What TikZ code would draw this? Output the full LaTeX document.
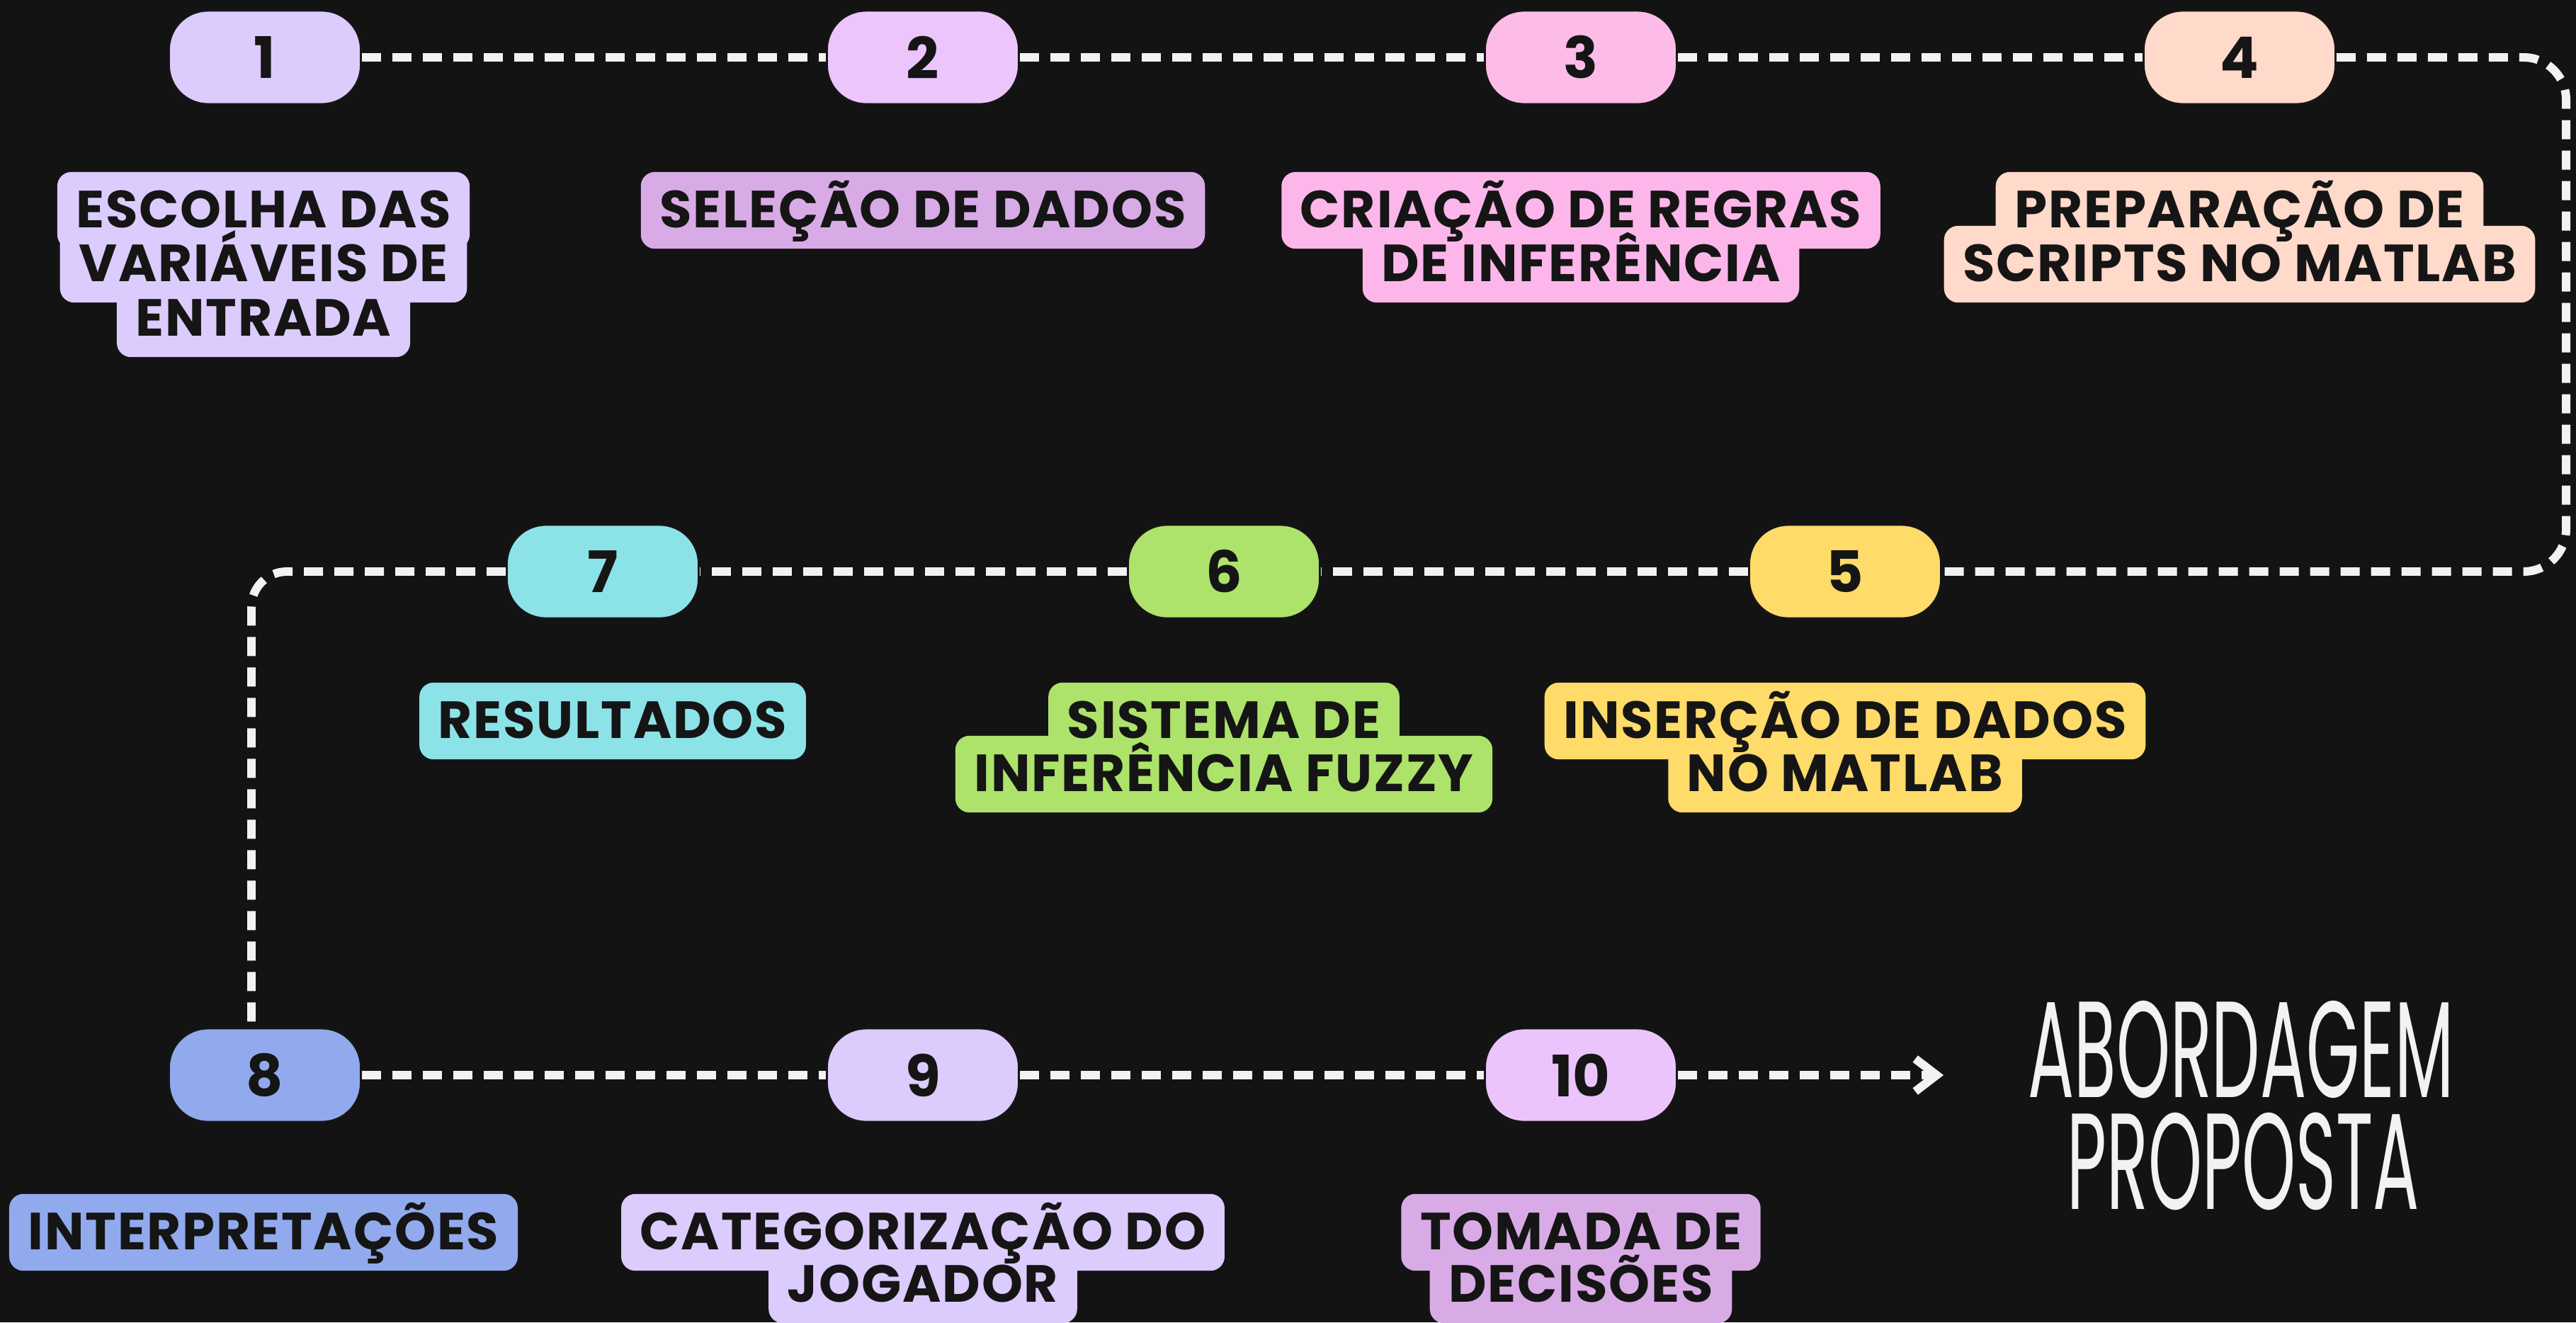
\documentclass[tikz,border=0pt]{standalone}
\usepackage{fontspec}
\setmainfont{Poppins}
\usetikzlibrary{arrows.meta,backgrounds}

\definecolor{fundo}{HTML}{131313}
\definecolor{trilhacor}{HTML}{F2F2F2}
\definecolor{tinta}{HTML}{151515}
\definecolor{cor1}{HTML}{DCCBFD}
\definecolor{cor2}{HTML}{EBC5FC}
\definecolor{cor2b}{HTML}{D8ABE6}
\definecolor{cor3}{HTML}{FDBCE8}
\definecolor{cor3b}{HTML}{FDB6EA}
\definecolor{cor4}{HTML}{FFD9CA}
\definecolor{cor5}{HTML}{FFDB6A}
\definecolor{cor6}{HTML}{ADE36A}
\definecolor{cor7}{HTML}{8BE3E8}
\definecolor{cor8}{HTML}{91AAEE}
\definecolor{cor9}{HTML}{DCCBFD}
\definecolor{cor10}{HTML}{ECC4FD}
\definecolor{cor10b}{HTML}{D8ABE6}

\begin{document}
\begin{tikzpicture}[
        passo/.style = {
                rounded corners=5.5mm,
                draw=tinta,
                line width=0.8pt,
                minimum width=27.1mm,
                minimum height=13.2mm,
                text=tinta,
                font=\fontsize{23}{23}\selectfont\bfseries,
            },
        rotulo/.style = {
                inner xsep=2.6mm,
                inner ysep=2.9mm,
                text height=4.9mm,
                text depth=0mm,
                text=tinta,
                font=\fontsize{21}{21}\selectfont\bfseries\addfontfeatures{LetterSpace=2.5},
            },
        trilha/.style = {
                draw=trilhacor,
                line width=3.4pt,
                dash pattern=on 2.7mm off 1.6mm,
            },
        titulo/.style = {
                inner sep=0pt,
                text height=11.8mm,
                text depth=0mm,
                text=trilhacor,
                font=\fontsize{55}{55}\selectfont,
            },
    ]
    \useasboundingbox (0,0) rectangle (36.37,-18.67);
    \begin{scope}[on background layer]
        \fill[fundo] (0,0) rectangle (36.37,-18.67);
    \end{scope}

    % etapas numeradas
    \foreach \n/\x/\y in {
            1/3.74/-0.81, 2/13.03/-0.81, 3/22.32/-0.81, 4/31.62/-0.81,
            5/26.05/-8.07, 6/17.28/-8.07, 7/8.51/-8.07,
            8/3.74/-15.18, 9/13.03/-15.18, 10/22.32/-15.18
        }
    \node[passo, fill=cor\n] (p\n) at (\x,\y) {\n};

    % trilha tracejada
    \coordinate (cantoNE) at (36.23,-0.81);
    \coordinate (cantoSE) at (36.23,-8.07);
    \coordinate (cantoNO) at (3.55,-8.07);
    \coordinate (fim) at (27.44,-15.18);
    \foreach \a/\b in {1/2, 2/3, 3/4, 5/6, 6/7, 8/9, 9/10}
    \draw[trilha] (p\a) -- (p\b);
    \draw[trilha, rounded corners=6mm] (p4) -- (cantoNE) -- (cantoSE) -- (p5);
    \draw[trilha, rounded corners=5mm] (p7) -- (cantoNO) -- (cantoNO |- p8.north);
    \draw[trilha, -{Straight Barb[length=3mm, width=4.6mm]}] (p10) -- (fim);

    % rotulos, uma linha por no
    \foreach \nome/\cor/\x/\y/\texto in {
            r1a/cor1/3.72/-2.97/ESCOLHA DAS,
            r1b/cor1/3.72/-3.73/VARIÁVEIS DE,
            r1c/cor1/3.72/-4.50/ENTRADA,
            r2a/cor2b/13.03/-2.97/SELEÇÃO DE DADOS,
            r3a/cor3b/22.32/-2.97/CRIAÇÃO DE REGRAS,
            r3b/cor3b/22.32/-3.73/DE INFERÊNCIA,
            r4a/cor4/31.62/-2.97/PREPARAÇÃO DE,
            r4b/cor4/31.62/-3.73/SCRIPTS NO MATLAB,
            r5a/cor5/26.05/-10.18/INSERÇÃO DE DADOS,
            r5b/cor5/26.05/-10.93/NO MATLAB,
            r6a/cor6/17.28/-10.18/SISTEMA DE,
            r6b/cor6/17.28/-10.93/INFERÊNCIA FUZZY,
            r7a/cor7/8.65/-10.18/RESULTADOS,
            r8a/cor8/3.72/-17.40/INTERPRETAÇÕES,
            r9a/cor9/13.03/-17.40/CATEGORIZAÇÃO DO,
            r9b/cor9/13.03/-18.14/JOGADOR,
            r10a/cor10b/22.32/-17.40/TOMADA DE,
            r10b/cor10b/22.32/-18.14/DECISÕES
        }
    {
        \node[rotulo] (\nome) at (\x,\y) {\texto};
        \begin{scope}[on background layer]
            \fill[\cor, rounded corners=2mm] (\nome.south west) rectangle (\nome.north east);
        \end{scope}
    }

    \node[titulo] (tituloA) at (31.64,-14.90) {\scalebox{0.5}[1]{ABORDAGEM}};
    \node[titulo] (tituloB) at (31.67,-16.48) {\scalebox{0.5}[1]{PROPOSTA}};
\end{tikzpicture}
\end{document}
